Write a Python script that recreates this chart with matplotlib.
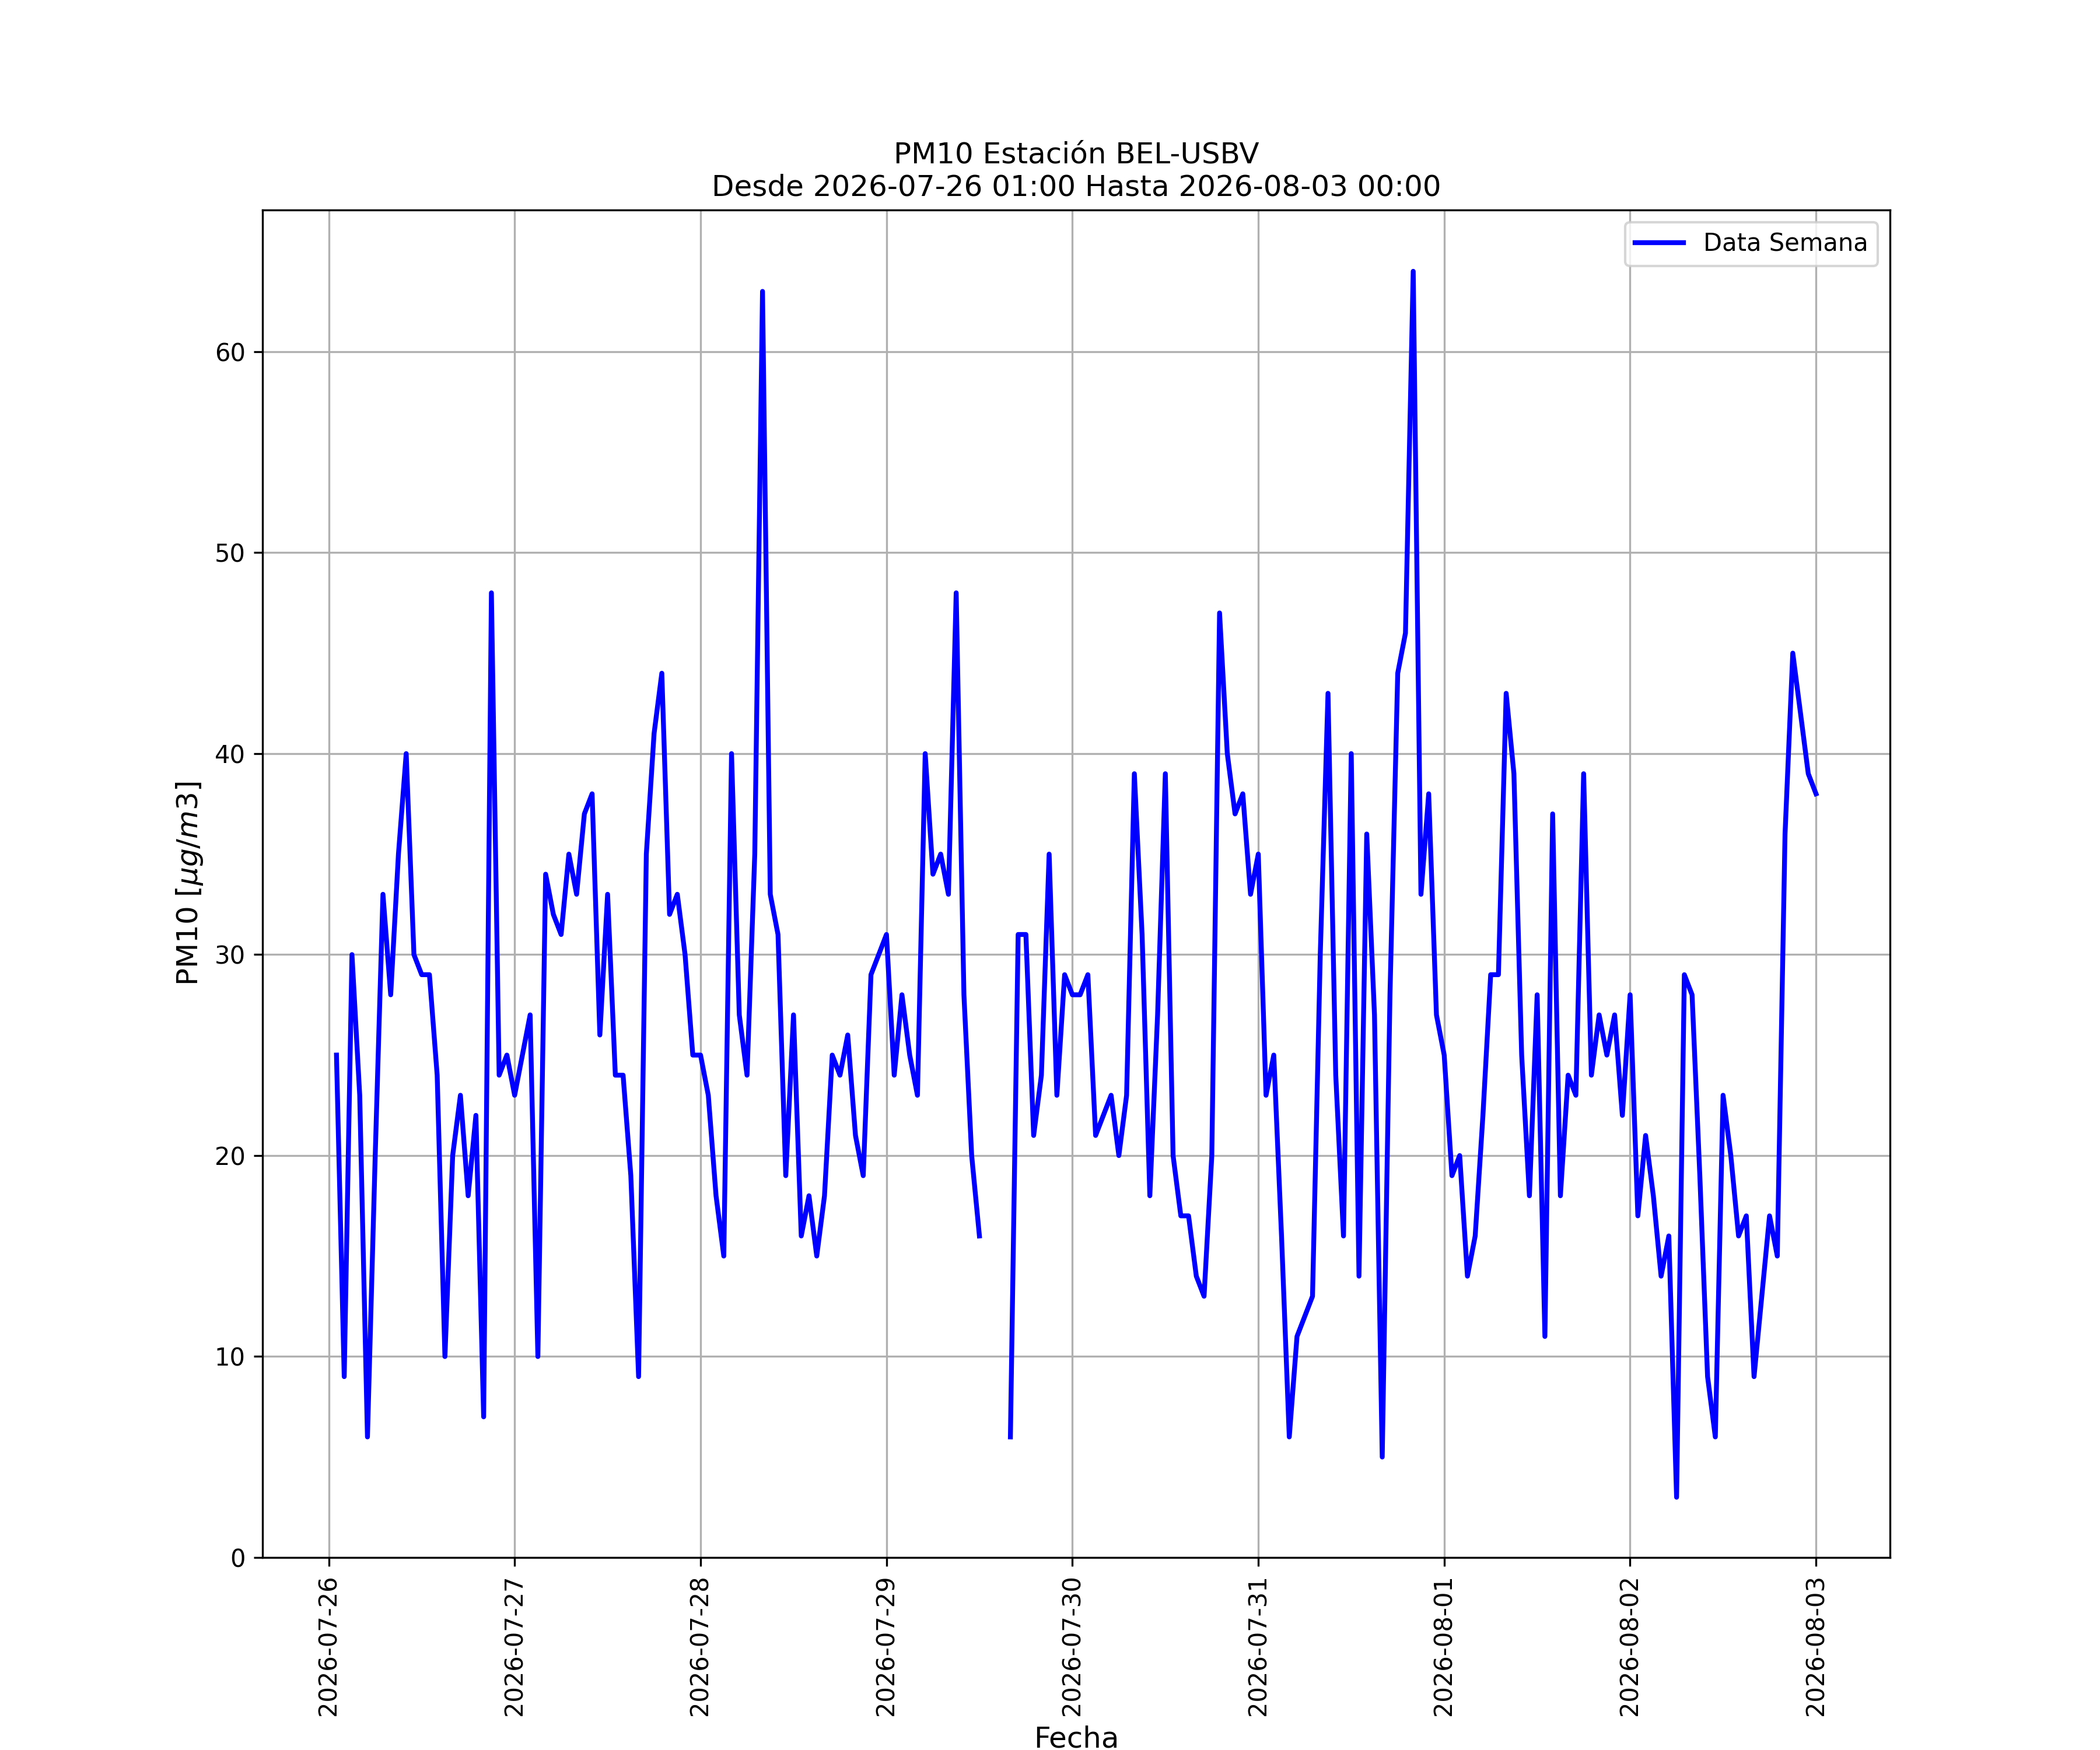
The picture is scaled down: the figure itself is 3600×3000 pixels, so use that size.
import numpy as np
import pandas as pd
import matplotlib
matplotlib.use("Agg")
import matplotlib.pyplot as plt
import matplotlib.dates as mdates

nan = np.nan

# Hourly PM10 values, 2026-07-26 01:00 .. 2026-08-03 00:00
day_0726 = [25, 9, 30, 23, 6, 20, 33, 28, 35, 40, 30, 29, 29, 24, 10, 20, 23, 18, 22, 7, 48, 24, 25, 23]
day_0727 = [25, 27, 10, 34, 32, 31, 35, 33, 37, 38, 26, 33, 24, 24, 19, 9, 35, 41, 44, 32, 33, 30, 25, 25]
day_0728 = [23, 18, 15, 40, 27, 24, 35, 63, 33, 31, 19, 27, 16, 18, 15, 18, 25, 24, 26, 21, 19, 29, 30, 31]
day_0729 = [24, 28, 25, 23, 40, 34, 35, 33, 48, 28, 20, 16, nan, nan, nan, 6, 31, 31, 21, 24, 35, 23, 29, 28]
day_0730 = [28, 29, 21, 22, 23, 20, 23, 39, 31, 18, 27, 39, 20, 17, 17, 14, 13, 20, 47, 40, 37, 38, 33, 35]
day_0731 = [23, 25, 16, 6, 11, 12, 13, 30, 43, 24, 16, 40, 14, 36, 27, 5, 28, 44, 46, 64, 33, 38, 27, 25]
day_0801 = [19, 20, 14, 16, 22, 29, 29, 43, 39, 25, 18, 28, 11, 37, 18, 24, 23, 39, 24, 27, 25, 27, 22, 28]
day_0802 = [17, 21, 18, 14, 16, 3, 29, 28, 19, 9, 6, 23, 20, 16, 17, 9, 13, 17, 15, 36, 45, 42, 39, 38]

start = "2026-07-26 01:00"
end = "2026-08-03 00:00"

values = np.array(day_0726 + day_0727 + day_0728 + day_0729 +
                  day_0730 + day_0731 + day_0801 + day_0802, dtype=float)
times = pd.date_range(start=start, end=end, freq="h")

fig, ax = plt.subplots(figsize=(12, 10), dpi=300)
ax.plot(times, values, color="blue", linewidth=2, label="Data Semana")
ax.set_ylim(bottom=0)
ax.grid(True)
ax.xaxis.set_major_locator(mdates.DayLocator())
ax.xaxis.set_major_formatter(mdates.DateFormatter("%Y-%m-%d"))
plt.setp(ax.get_xticklabels(), rotation=90)
ax.set_title("PM10 Estación BEL-USBV\nDesde 2026-07-26 01:00 Hasta 2026-08-03 00:00", fontsize=12)
ax.set_xlabel("Fecha", fontsize=12)
ax.set_ylabel(r"PM10 [$\mu g/m3$]", fontsize=12)
ax.legend(loc="upper right")
fig.savefig("out.png", dpi=300)
